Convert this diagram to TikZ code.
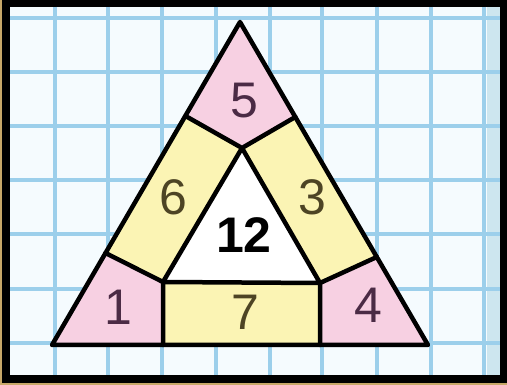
\documentclass[tikz,border=0pt]{standalone}
\usepackage{fontspec}
\setmainfont{Liberation Sans}
\definecolor{bgc}{HTML}{F5FBFE}
\definecolor{gridc}{HTML}{9CCFEB}
\definecolor{stripc}{HTML}{CDE6EF}
\definecolor{pinkc}{HTML}{F7D0E2}
\definecolor{yellc}{HTML}{FBF4B4}
\definecolor{txtp}{HTML}{4B2B45}
\definecolor{txty}{HTML}{4D4424}
\definecolor{tanc}{HTML}{C8A868}
\tikzset{
  gridline/.style={draw=gridc, line width=4pt},
  edge/.style={draw=black, line width=4.5pt, line join=round, line cap=round},
  pinkpart/.style={fill=pinkc},
  yellpart/.style={fill=yellc},
  numlbl/.style={inner sep=0pt, font=\fontsize{50}{50}\selectfont},
}
\begin{document}
\begin{tikzpicture}[x=1pt,y=-1pt]
\useasboundingbox (0,0) rectangle (507,385);
% frame
\fill[black] (0,0) rectangle (507,385);
\fill[tanc] (0,0) rectangle (2,385);
\fill[tanc] (0,383) rectangle (507,385);
\fill[bgc] (10,7) rectangle (500,375);
\fill[stripc] (487,7) rectangle (500,375);
% grid
\begin{scope}
\clip (10,7) rectangle (500,375);
\foreach \gx in {55,108,162,216,270,322,377,431,484}
  \draw[gridline] (\gx,7) -- (\gx,375);
\foreach \gy in {18,72,126,180,234,289,343}
  \draw[gridline] (10,\gy) -- (500,\gy);
\end{scope}
% triangle points
\coordinate (A) at (240,22);
\coordinate (B) at (52,345);
\coordinate (C) at (428,345);
\coordinate (Ai) at (242,148);
\coordinate (Bi) at (163,282);
\coordinate (Ci) at (320,283);
\coordinate (Pl) at (185.5,116);
\coordinate (Pr) at (295.3,117);
\coordinate (Ql) at (105.5,253);
\coordinate (Qr) at (376.8,257);
\coordinate (Bb) at (163,345);
\coordinate (Cb) at (320,345);
% regions
\fill[pinkpart] (A) -- (Pl) -- (Ai) -- (Pr) -- cycle;
\fill[yellpart] (Pl) -- (Ql) -- (Bi) -- (Ai) -- cycle;
\fill[pinkpart] (Ql) -- (B) -- (Bb) -- (Bi) -- cycle;
\fill[yellpart] (Bi) -- (Bb) -- (Cb) -- (Ci) -- cycle;
\fill[pinkpart] (Ci) -- (Cb) -- (C) -- (Qr) -- cycle;
\fill[yellpart] (Ai) -- (Ci) -- (Qr) -- (Pr) -- cycle;
\fill[white] (Ai) -- (Bi) -- (Ci) -- cycle;
% lines
\draw[edge] (A) -- (B) -- (C) -- cycle;
\draw[edge] (Ai) -- (Bi) -- (Ci) -- cycle;
\draw[edge] (Pl) -- (Ai) -- (Pr);
\draw[edge] (Ql) -- (Bi) -- (Bb);
\draw[edge] (Qr) -- (Ci) -- (Cb);
% labels
\node[numlbl, text=txtp] (n5) at (244,101) {5};
\node[numlbl, text=txty] (n6) at (173,197) {6};
\node[numlbl, text=txty] (n3) at (312,197) {3};
\node[numlbl, text=black, font=\fontsize{50}{50}\selectfont\bfseries] (n12) at (244,235) {12};
\node[numlbl, text=txtp] (n1) at (118,307) {1};
\node[numlbl, text=txty] (n7) at (245,312) {7};
\node[numlbl, text=txtp] (n4) at (368,305) {4};
\end{tikzpicture}
\end{document}
